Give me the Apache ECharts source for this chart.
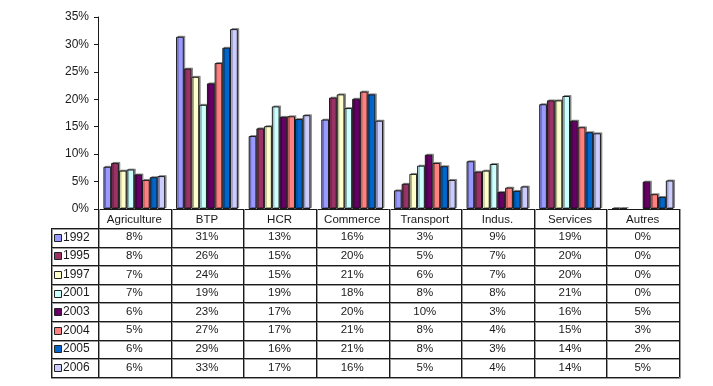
<!DOCTYPE html>
<html>
<head>
<meta charset="utf-8">
<script src="https://cdn.jsdelivr.net/npm/echarts@6/dist/echarts.min.js"></script>
<style>
html,body{margin:0;padding:0;background:#fff;}
#c{width:713px;height:386px;}
</style>
</head>
<body>
<div id="c"></div>
<script>
// ---- data ----
const categories = ['Agriculture', 'BTP', 'HCR', 'Commerce', 'Transport', 'Indus.', 'Services', 'Autres'];
const years = ['1992', '1995', '1997', '2001', '2003', '2004', '2005', '2006'];
const v1992 = [7.7, 31.4, 13.3, 16.3, 3.4, 8.7, 19.1, 0.1];
const v1995 = [8.4, 25.6, 14.7, 20.3, 4.6, 6.8, 19.8, 0.1];
const v1997 = [7.0, 24.1, 15.1, 20.9, 6.4, 7.0, 19.8, 0];
const v2001 = [7.2, 19.0, 18.7, 18.4, 7.9, 8.2, 20.6, 0];
const v2003 = [6.3, 22.9, 16.8, 20.1, 9.9, 3.1, 16.1, 5.0];
const v2004 = [5.3, 26.6, 16.9, 21.4, 8.4, 3.9, 14.9, 2.7];
const v2005 = [5.8, 29.4, 16.4, 20.9, 7.8, 3.3, 14.0, 2.2];
const v2006 = [6.0, 32.8, 17.1, 16.1, 5.3, 4.1, 13.8, 5.2];
const seriesValues = [v1992, v1995, v1997, v2001, v2003, v2004, v2005, v2006];
// table cells as printed in the reference
const tableRows = [
  ['8%', '31%', '13%', '16%', '3%', '9%', '19%', '0%'],
  ['8%', '26%', '15%', '20%', '5%', '7%', '20%', '0%'],
  ['7%', '24%', '15%', '21%', '6%', '7%', '20%', '0%'],
  ['7%', '19%', '19%', '18%', '8%', '8%', '21%', '0%'],
  ['6%', '23%', '17%', '20%', '10%', '3%', '16%', '5%'],
  ['5%', '27%', '17%', '21%', '8%', '4%', '15%', '3%'],
  ['6%', '29%', '16%', '21%', '8%', '3%', '14%', '2%'],
  ['6%', '33%', '17%', '16%', '5%', '4%', '14%', '5%']
];
const yTicks = { min: 0, max: 35, interval: 5 };

// ---- styles / layout ----
const colors = ['#9999FF', '#993366', '#FFFFCC', '#CCFFFF', '#660066', '#FF8080', '#0066CC', '#CCCCFF'];
const FONT = 'Liberation Sans, Arial, Helvetica, sans-serif';
const FS = 11.5;
const W = 713, H = 386;
const GL = 98, GR = 679, GT = 17, AXY = 209;
const HEAD = 228, ROWH = 18.6, TL = 51;

const chart = echarts.init(document.getElementById('c'), null, { renderer: 'canvas' });

const colW = (GR - GL) / categories.length;
const px = v => Math.round(v) + 0.5;
const bottomY = HEAD + ROWH * years.length;
const graphics = [];
const lineStyle = { stroke: '#1a1a1a', lineWidth: 1 };
const shadeStyle = { stroke: '#9a9a9a', lineWidth: 1 };

// horizontal lines of the table
for (let i = 0; i <= years.length; i++) {
  const y = px(HEAD + i * ROWH);
  graphics.push({ type: 'line', silent: true, z: 10, shape: { x1: TL, y1: y + 1, x2: GR + 1, y2: y + 1 }, style: shadeStyle });
  graphics.push({ type: 'line', silent: true, z: 11, shape: { x1: TL, y1: y, x2: GR, y2: y }, style: lineStyle });
}
// vertical lines
graphics.push({ type: 'line', silent: true, z: 10, shape: { x1: px(TL) + 1, y1: px(HEAD), x2: px(TL) + 1, y2: px(bottomY) + 1 }, style: shadeStyle });
graphics.push({ type: 'line', silent: true, z: 11, shape: { x1: px(TL), y1: px(HEAD), x2: px(TL), y2: px(bottomY) }, style: lineStyle });
for (let k = 0; k <= categories.length; k++) {
  const x = px(GL + k * colW);
  graphics.push({ type: 'line', silent: true, z: 10, shape: { x1: x + 1, y1: AXY, x2: x + 1, y2: px(bottomY) + 1 }, style: shadeStyle });
  graphics.push({ type: 'line', silent: true, z: 11, shape: { x1: x, y1: AXY, x2: x, y2: px(bottomY) }, style: lineStyle });
}
// row labels with colour keys
years.forEach((yr, i) => {
  const cy = HEAD + i * ROWH + ROWH / 2;
  graphics.push({ type: 'rect', silent: true, z: 12,
    shape: { x: 54.5, y: Math.round(cy - 3.5) + 0.5, width: 7, height: 7 },
    style: { fill: colors[i], stroke: '#222', lineWidth: 1 } });
  graphics.push({ type: 'text', silent: true, z: 12, x: 63, y: cy,
    style: { text: yr, font: '12px ' + FONT, fill: '#1a1a1a', textAlign: 'left', textVerticalAlign: 'middle' } });
  tableRows[i].forEach((t, j) => {
    graphics.push({ type: 'text', silent: true, z: 12, x: GL + (j + 0.5) * colW, y: cy,
      style: { text: t, font: FS + 'px ' + FONT, fill: '#1a1a1a', textAlign: 'center', textVerticalAlign: 'middle' } });
  });
});

const option = {
  animation: false,
  backgroundColor: '#fff',
  textStyle: { fontFamily: FONT },
  grid: { left: GL, right: W - GR, top: GT, bottom: H - AXY, containLabel: false },
  xAxis: {
    type: 'category',
    data: categories,
    axisLine: { show: true, lineStyle: { color: '#1a1a1a', width: 1 } },
    axisTick: { show: false },
    axisLabel: { interval: 0, margin: 5, fontSize: FS, color: '#1a1a1a', fontFamily: FONT },
    splitLine: { show: false }
  },
  yAxis: {
    type: 'value',
    min: yTicks.min, max: yTicks.max, interval: yTicks.interval,
    axisLine: { show: true, lineStyle: { color: '#1a1a1a', width: 1 } },
    axisTick: { show: true, length: 4, inside: false, lineStyle: { color: '#1a1a1a' } },
    axisLabel: { margin: 9, fontSize: 12, color: '#1a1a1a', fontFamily: FONT, formatter: '{value}%' },
    splitLine: { show: false }
  },
  series: years.map((yr, i) => ({
    name: yr,
    type: 'bar',
    data: seriesValues[i].map(v => v === 0 ? { value: v, itemStyle: { borderWidth: 0, shadowColor: 'rgba(0,0,0,0)' } } : v),
    barGap: '0%',
    barCategoryGap: '15%',
    itemStyle: {
      color: colors[i],
      borderColor: '#1a1a1a',
      borderWidth: 1,
      shadowColor: 'rgba(0,0,0,0.35)',
      shadowOffsetX: 1.5,
      shadowOffsetY: -1,
      shadowBlur: 0
    }
  })),
  graphic: graphics
};
chart.setOption(option);
</script>
</body>
</html>
